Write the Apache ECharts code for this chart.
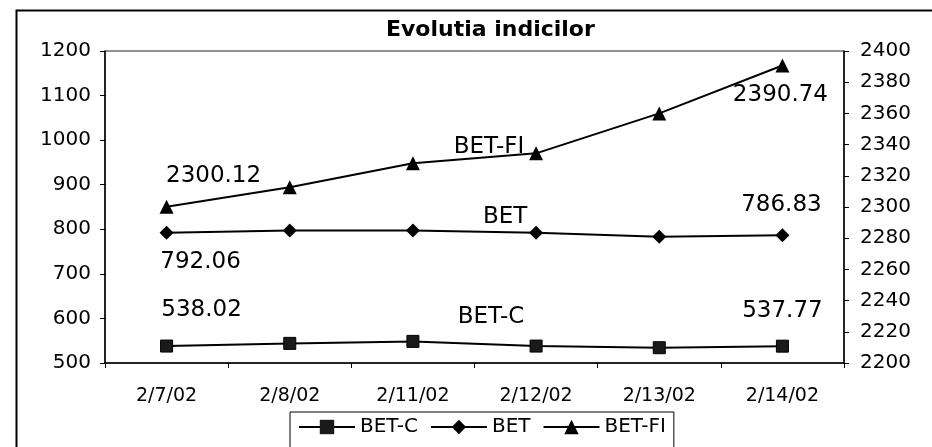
<!DOCTYPE html>
<html><head><meta charset="utf-8">
<script src="https://cdn.jsdelivr.net/npm/echarts@6/dist/echarts.min.js"></script>
<style>html,body{margin:0;padding:0;background:#fff}#c{width:932px;height:447px}</style>
</head><body><div id="c"></div>
<script>
const categories = ['2/7/02','2/8/02','2/11/02','2/12/02','2/13/02','2/14/02'];
const betC  = [538.02, 544, 548.5, 538, 534.3, 537.77];
const bet   = [792.06, 797, 797, 792, 783, 786.83];
const betFI = [2300.12, 2312.6, 2328, 2334.4, 2360, 2390.74];
const leftTicks = {min: 500, max: 1200, interval: 100};
const rightTicks = {min: 2200, max: 2400, interval: 20};

const FONT = 'DejaVu Sans';
const lblStyle = {show: true, position: 'inside', color: '#000', fontFamily: FONT, fontSize: 23};

function build(values, name, offs) {
  return values.map((v, i) => {
    const item = {value: v};
    if (offs[i]) {
      item.label = Object.assign({}, lblStyle, {
        offset: offs[i].o,
        formatter: offs[i].t === 'name' ? name : String(v)
      });
    }
    return item;
  });
}

const chart = echarts.init(document.getElementById('c'));
chart.setOption({
  backgroundColor: '#fff',
  animation: false,
  title: {
    text: 'Evolutia indicilor', left: 386, top: 19, padding: 0,
    textStyle: {fontFamily: FONT, fontWeight: 'bold', fontSize: 22, color: '#000'}
  },
  graphic: [{
    type: 'rect', left: 14, top: 8, silent: true,
    shape: {width: 1000, height: 600},
    style: {fill: 'none', stroke: '#000', lineWidth: 2}
  }],
  grid: {left: 105, right: 88, top: 51, bottom: 84, show: true, borderColor: '#222', borderWidth: 1, backgroundColor: '#fff'},
  legend: {
    left: 290, top: 412, orient: 'horizontal',
    borderColor: '#000', borderWidth: 1, padding: [5, 8, 30, 8],
    itemWidth: 56, itemHeight: 18, itemGap: 12,
    textStyle: {fontFamily: FONT, fontSize: 20, color: '#000'},
    data: ['BET-C', 'BET', 'BET-FI']
  },
  xAxis: {
    type: 'category', data: categories, boundaryGap: true,
    axisLine: {lineStyle: {color: '#000', width: 1.5}},
    axisTick: {show: true, length: 5, lineStyle: {color: '#000'}},
    axisLabel: {color: '#000', fontFamily: FONT, fontSize: 19, margin: 24},
    splitLine: {show: false}
  },
  yAxis: [{
    type: 'value', min: leftTicks.min, max: leftTicks.max, interval: leftTicks.interval,
    axisLine: {show: true, lineStyle: {color: '#000', width: 1.5}},
    axisTick: {show: true, length: 5, lineStyle: {color: '#000'}},
    axisLabel: {color: '#000', fontFamily: FONT, fontSize: 20, margin: 14, formatter: v => String(v)},
    splitLine: {show: false}
  }, {
    type: 'value', position: 'right', min: rightTicks.min, max: rightTicks.max, interval: rightTicks.interval,
    axisLine: {show: true, lineStyle: {color: '#000', width: 1.5}},
    axisTick: {show: true, length: 5, lineStyle: {color: '#000'}},
    axisLabel: {color: '#000', fontFamily: FONT, fontSize: 20, margin: 16, formatter: v => String(v)},
    splitLine: {show: false}
  }],
  series: [{
    name: 'BET-C', type: 'line', yAxisIndex: 0,
    symbol: 'rect', symbolSize: 12,
    lineStyle: {color: '#000', width: 2}, itemStyle: {color: '#1a1a1a', borderColor: '#000'},
    data: build(betC, 'BET-C', {0: {o: [35, -36]}, 3: {t: 'name', o: [-45, -29]}, 5: {o: [0, -35]}})
  }, {
    name: 'BET', type: 'line', yAxisIndex: 0,
    symbol: 'diamond', symbolSize: 14,
    lineStyle: {color: '#000', width: 2}, itemStyle: {color: '#000'},
    data: build(bet, 'BET', {0: {o: [34, 29]}, 3: {t: 'name', o: [-31, -16]}, 5: {o: [-1, -30]}})
  }, {
    name: 'BET-FI', type: 'line', yAxisIndex: 1,
    symbol: 'triangle', symbolSize: 14,
    lineStyle: {color: '#000', width: 2}, itemStyle: {color: '#000'},
    data: build(betFI, 'BET-FI', {0: {o: [47, -31]}, 3: {t: 'name', o: [-47, -6]}, 5: {o: [-2, 30]}})
  }]
});
</script></body></html>
